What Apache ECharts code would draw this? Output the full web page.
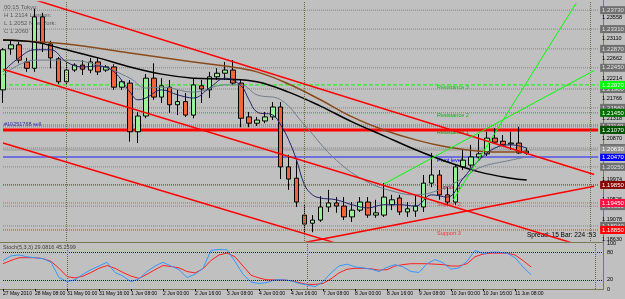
<!DOCTYPE html>
<html style="height: 100%">
<head>
    <meta charset="utf-8">
    <title>EURUSD,H4</title>
    <script src="https://cdn.jsdelivr.net/npm/echarts@6/dist/echarts.min.js"></script>
</head>
<body style="height: 100%; margin: 0; background: #c0c0c0">
<div id="main" style="width: 625px; height: 299px"></div>

<script type="text/javascript">
    // time axis labels, one every 4 bars (H4)
    var timeLabels = ['27 May 2010', '28 May 08:00', '31 May 00:00', '31 May 16:00', '1 Jun 08:00',
        '2 Jun 00:00', '2 Jun 16:00', '3 Jun 08:00', '4 Jun 00:00', '4 Jun 16:00', '7 Jun 08:00',
        '8 Jun 00:00', '8 Jun 16:00', '9 Jun 08:00', '10 Jun 00:00', '10 Jun 16:00', '11 Jun 08:00'];
    var slots = 76; // 67 bars + empty space on the right

    // [open, close, low, high]
    var candles = [
        [1.2196, 1.2285, 1.2167, 1.2289], [1.2287, 1.2296, 1.2274, 1.2307], [1.2296, 1.2262, 1.2255, 1.2303],
        [1.2258, 1.2244, 1.2236, 1.2267], [1.2244, 1.2358, 1.2236, 1.2376], [1.2358, 1.2300, 1.2280, 1.2367],
        [1.2298, 1.2267, 1.2244, 1.2305], [1.2265, 1.2214, 1.2209, 1.2269], [1.2214, 1.2240, 1.2209, 1.2258],
        [1.2240, 1.2251, 1.2236, 1.2255], [1.2251, 1.2242, 1.2229, 1.2262], [1.2240, 1.2258, 1.2233, 1.2267],
        [1.2258, 1.2236, 1.2229, 1.2267], [1.2240, 1.2247, 1.2236, 1.2251], [1.2247, 1.2202, 1.2196, 1.2253],
        [1.2202, 1.2214, 1.2196, 1.2218], [1.2211, 1.2103, 1.2081, 1.2218], [1.2103, 1.2138, 1.2078, 1.2147],
        [1.2138, 1.2222, 1.2133, 1.2231], [1.2222, 1.2180, 1.2174, 1.2255], [1.2180, 1.2205, 1.2167, 1.2222],
        [1.2202, 1.2163, 1.2145, 1.2218], [1.2163, 1.2170, 1.2140, 1.2196], [1.2170, 1.2140, 1.2136, 1.2189],
        [1.2140, 1.2207, 1.2133, 1.2222], [1.2205, 1.2198, 1.2167, 1.2218], [1.2196, 1.2225, 1.2178, 1.2236],
        [1.2225, 1.2233, 1.2218, 1.2244], [1.2233, 1.2240, 1.2218, 1.2258], [1.2240, 1.2211, 1.2207, 1.2262],
        [1.2211, 1.2133, 1.2113, 1.2218], [1.2136, 1.2122, 1.2113, 1.2147], [1.2122, 1.2129, 1.2116, 1.2136],
        [1.2127, 1.2136, 1.2122, 1.2147], [1.2136, 1.2158, 1.2129, 1.2169], [1.2158, 1.2025, 1.1998, 1.2169],
        [1.2025, 1.1998, 1.1974, 1.2052], [1.2000, 1.1947, 1.1936, 1.2040], [1.1918, 1.1898, 1.1876, 1.1941],
        [1.1900, 1.1907, 1.1880, 1.1918], [1.1907, 1.1936, 1.1903, 1.1960], [1.1936, 1.1945, 1.1925, 1.1974],
        [1.1945, 1.1938, 1.1923, 1.1958], [1.1938, 1.1914, 1.1907, 1.1958], [1.1914, 1.1929, 1.1903, 1.1947],
        [1.1929, 1.1947, 1.1925, 1.1958], [1.1947, 1.1918, 1.1912, 1.1958], [1.1918, 1.1923, 1.1912, 1.1952],
        [1.1918, 1.1958, 1.1914, 1.1989], [1.1941, 1.1952, 1.1929, 1.1963], [1.1956, 1.1925, 1.1918, 1.1963],
        [1.1925, 1.1932, 1.1914, 1.1947], [1.1927, 1.1938, 1.1914, 1.1963], [1.1936, 1.1989, 1.1925, 1.2007],
        [1.1989, 1.2007, 1.1980, 1.2056], [1.2007, 1.1963, 1.1952, 1.2018], [1.1963, 1.1947, 1.1941, 1.1980],
        [1.1947, 1.2025, 1.1941, 1.2029], [1.2025, 1.2040, 1.2018, 1.2063], [1.2029, 1.2047, 1.2023, 1.2074],
        [1.2047, 1.2054, 1.2040, 1.2098], [1.2054, 1.2089, 1.2049, 1.2103], [1.2089, 1.2080, 1.2076, 1.2111],
        [1.2082, 1.2074, 1.2071, 1.2096], [1.2076, 1.2078, 1.2063, 1.2103], [1.2078, 1.2056, 1.2054, 1.2114],
        [1.2056, 1.2060, 1.2052, 1.2067]
    ];

    // moving averages: [bar, price]
    var blackMA = [[0, 1.2307], [4, 1.2302], [8, 1.2285], [12, 1.2267], [16, 1.2247], [20, 1.2231], [24, 1.2222],
        [28, 1.2220], [32, 1.2214], [36, 1.2191], [40, 1.2160], [44, 1.2125], [48, 1.2094], [52, 1.2063],
        [56, 1.2036], [60, 1.2014], [64, 1.2000], [66, 1.1996]];
    var brownMA = [[0, 1.2307], [8, 1.2298], [16, 1.2278], [24, 1.2258], [28, 1.2249], [32, 1.2236], [36, 1.2209],
        [40, 1.2174], [44, 1.2136], [48, 1.2107], [52, 1.2085], [56, 1.2069], [60, 1.2060], [64, 1.2058], [66, 1.2060]];
    var navyMA = [[0, 1.2236], [2, 1.2267], [4, 1.2285], [6, 1.2285], [8, 1.2258], [10, 1.2247], [12, 1.2249],
        [14, 1.2236], [16, 1.2191], [17, 1.2174], [18, 1.2178], [20, 1.2196], [22, 1.2185], [24, 1.2178],
        [26, 1.2200], [28, 1.2222], [30, 1.2205], [31, 1.2174], [32, 1.2147], [34, 1.2140], [35, 1.2118],
        [36, 1.2085], [37, 1.2040], [38, 1.1985], [39, 1.1963], [40, 1.1956], [42, 1.1952], [44, 1.1941],
        [46, 1.1934], [48, 1.1941], [50, 1.1941], [52, 1.1938], [54, 1.1963], [56, 1.1958], [58, 1.2000],
        [60, 1.2040], [62, 1.2067], [64, 1.2074], [66, 1.2067]];
    var slateMA = [[0, 1.2229], [4, 1.2262], [8, 1.2262], [12, 1.2251], [16, 1.2222], [18, 1.2200], [20, 1.2202],
        [24, 1.2191], [28, 1.2207], [30, 1.2207], [32, 1.2185], [35, 1.2174], [38, 1.2118], [42, 1.2040],
        [46, 1.1991], [50, 1.1967], [52, 1.1963], [55, 1.1974], [58, 1.2000], [60, 1.2023], [64, 1.2040], [66, 1.2047]];

    // trend lines: [[bar, price], [bar, price]]
    var redLines = [
        [[0, 1.2418], [74.5, 1.2008]],
        [[0, 1.2242], [74, 1.1844]],
        [[0, 1.2078], [44, 1.1845]],
        [[38, 1.1857], [74.5, 1.1982]]
    ];
    var greenLines = [
        [[48, 1.1987], [74.5, 1.2239]],
        [[56.75, 1.1952], [72.25, 1.2389]]
    ];

    // horizontal levels
    var greyLevels = [1.2373, 1.2331, 1.2287, 1.2245, 1.2198, 1.2156, 1.2114, 1.2067, 1.2025, 1.1938, 1.1894];
    var pivotNames = ['Resistance 3', 'Resistance 2', 'Resistance 1', 'Pivot level', 'Support 1', 'Support 2', 'Support 3'];
    var pivotValues = [1.2207, 1.2145, 1.2107, 1.2047, 1.1985, 1.1945, 1.1885];
    var orderLevel = 1.2118;
    var bidLevel = 1.2063;
    var separators = [8, 38, 74];

    var priceTicks = [1.18630, 1.19078, 1.19526, 1.19974, 1.20422, 1.20870, 1.21318, 1.21766, 1.22214, 1.22662, 1.23110, 1.23558];

    // stochastic %K (blue) and %D (red)
    var stochK = [62, 72, 74, 70, 68, 66, 58, 25, 16, 20, 32, 42, 50, 58, 36, 28, 16, 22, 38, 50, 58, 50, 42, 25,
        32, 45, 84, 86, 85, 60, 32, 15, 12, 14, 20, 20, 18, 12, 9, 5, 16, 35, 50, 54, 48, 46, 43, 38, 47, 53,
        48, 38, 36, 55, 64, 57, 43, 46, 60, 84, 77, 80, 80, 78, 68, 48, 31];
    var stochD = [55, 62, 68, 68, 68, 66, 60, 45, 27, 24, 28, 36, 45, 51, 45, 36, 28, 23, 32, 42, 51, 49, 46, 38,
        35, 44, 62, 74, 78, 70, 50, 30, 24, 20, 20, 20, 18, 14, 10, 10, 12, 22, 35, 43, 45, 45, 44, 41, 42, 50,
        53, 55, 55, 55, 54, 53, 50, 50, 55, 70, 76, 78, 78, 78, 74, 62, 48];

    var cats = [];
    for (var i = 0; i < slots; i++) cats.push(String(i));

    var font = "'Liberation Sans', Arial, sans-serif";
    var pivotStyle = [
        {c: '#00ff00', t: 'dashed', w: 1, bg: '#00ff00', fg: '#ffffff', txt: '#10c010'},
        {c: '#00c000', t: 'dotted', w: 1, bg: '#007000', fg: '#ffffff', txt: '#10b010'},
        {c: '#ff0000', t: 'solid', w: 3, bg: '#005000', fg: '#ffffff', txt: '#109010'},
        {c: '#7070dd', t: 'solid', w: 2, bg: '#0000ff', fg: '#ffffff', txt: '#0000ff'},
        {c: '#8b1010', t: 'dotted', w: 1, bg: '#8b0000', fg: '#ffffff', txt: '#a01010'},
        {c: '#ff4060', t: 'dotted', w: 1, bg: '#ff1040', fg: '#ffffff', txt: '#ff3030'},
        {c: '#ff2020', t: 'dotted', w: 1, bg: '#ff0000', fg: '#ffffff', txt: '#ff3030'}
    ];
    var pivotTextY = [84, 112, 129, 157, 184, 201, 230];

    function levelSeries(v, color, type, width, bg, fg) {
        return {
            type: 'line', xAxisIndex: 1, yAxisIndex: 0, data: [[0, v], [slots - 1, v]], symbol: 'none', silent: true, z: 1,
            lineStyle: {color: color, type: type, width: width},
            endLabel: bg ? {
                show: true, distance: 2, formatter: function (p) { return p.value[1].toFixed(5); },
                backgroundColor: bg, color: fg, fontSize: 6, fontFamily: font, padding: [1, 2]
            } : {show: false}
        };
    }

    var series = [];
    greyLevels.forEach(function (v) {
        series.push(levelSeries(v, '#858585', 'dotted', 1, '#707070', '#e0e0e0'));
    });
    pivotValues.forEach(function (v, k) {
        var s = pivotStyle[k];
        series.push(levelSeries(v, s.c, s.t, s.w, s.bg, s.fg));
    });
    series.push(levelSeries(orderLevel, '#6060e0', 'dotted', 1, null, null));
    series.push(levelSeries(bidLevel, '#a8a8a8', 'solid', 2, '#909090', '#ffffff'));

    series.push({
        type: 'line', xAxisIndex: 0, yAxisIndex: 0, data: [], silent: true,
        markLine: {
            symbol: 'none', silent: true, animation: false, label: {show: false},
            lineStyle: {color: '#6b6b3a', type: 'dotted', width: 1},
            data: separators.map(function (s) { return {xAxis: s}; })
        }
    });
    series.push({
        type: 'candlestick', xAxisIndex: 0, yAxisIndex: 0, data: candles, barWidth: 5, clip: false, z: 3,
        itemStyle: {color: '#98f098', color0: '#f4643c', borderColor: '#000', borderColor0: '#000', borderWidth: 1}
    });
    series.push({type: 'line', xAxisIndex: 1, yAxisIndex: 0, data: brownMA, smooth: 0.4, symbol: 'none', z: 4, lineStyle: {color: '#8b4a1a', width: 1.5}});
    series.push({type: 'line', xAxisIndex: 1, yAxisIndex: 0, data: blackMA, smooth: 0.4, symbol: 'none', z: 4, lineStyle: {color: '#000', width: 1.5}});
    series.push({type: 'line', xAxisIndex: 1, yAxisIndex: 0, data: slateMA, smooth: 0.4, symbol: 'none', z: 4, lineStyle: {color: '#6f7f90', width: 1}});
    series.push({type: 'line', xAxisIndex: 1, yAxisIndex: 0, data: navyMA, smooth: 0.4, symbol: 'none', z: 4, lineStyle: {color: '#22226e', width: 1}});
    redLines.forEach(function (l) {
        series.push({type: 'line', xAxisIndex: 1, yAxisIndex: 0, data: l, symbol: 'none', z: 5, lineStyle: {color: '#ff0000', width: 1.5}});
    });
    greenLines.forEach(function (l) {
        series.push({type: 'line', xAxisIndex: 1, yAxisIndex: 0, data: l, symbol: 'none', z: 5, lineStyle: {color: '#00ff00', width: 1}});
    });
    series.push({
        type: 'line', xAxisIndex: 2, yAxisIndex: 1, data: [], silent: true,
        markLine: {
            symbol: 'none', silent: true, animation: false, label: {show: false}, precision: 0,
            data: [
                {yAxis: 80, lineStyle: {color: '#0000ff', type: 'dotted', width: 1}},
                {yAxis: 20, lineStyle: {color: '#0000ff', type: 'dotted', width: 1}},
                {xAxis: separators[0], lineStyle: {color: '#6b6b3a', type: 'dotted', width: 1}},
                {xAxis: separators[1], lineStyle: {color: '#6b6b3a', type: 'dotted', width: 1}},
                {xAxis: separators[2], lineStyle: {color: '#6b6b3a', type: 'dotted', width: 1}}
            ]
        }
    });
    series.push({type: 'line', xAxisIndex: 2, yAxisIndex: 1, data: stochD, symbol: 'none', lineStyle: {color: '#ff2020', width: 1}});
    series.push({type: 'line', xAxisIndex: 2, yAxisIndex: 1, data: stochK, symbol: 'none', lineStyle: {color: '#3399ff', width: 1}});

    var graphics = [
        {type: 'line', shape: {x1: 603.5, y1: 0, x2: 603.5, y2: 289}, style: {stroke: '#7a7a55', lineWidth: 1}},
        {type: 'line', shape: {x1: 0, y1: 242.5, x2: 604, y2: 242.5}, style: {stroke: '#7a7a55', lineWidth: 1}},
        {type: 'line', shape: {x1: 0, y1: 289.5, x2: 604, y2: 289.5}, style: {stroke: '#7a7a55', lineWidth: 1}},
        {type: 'text', left: 4, top: 3, style: {text: '00:15 Tokyo:\nH 1.2114 London:\nL 1.2052 New York:\nC 1.2060', fill: '#5c5c5c', font: '6px ' + font, lineHeight: 8}},
        {type: 'text', left: 4, top: 121, style: {text: '#10251768 sell', fill: '#3030a0', font: '5.5px ' + font}},
        {type: 'text', left: 527, top: 232, style: {text: 'Spread: 15 Bar: 224 :53', fill: '#000', font: '6.5px ' + font}},
        {type: 'text', left: 3, top: 244, style: {text: 'Stoch(5,3,3) 29.0816 45.2599', fill: '#3c3c3c', font: '5.5px ' + font}}
    ];
    pivotNames.forEach(function (n, k) {
        graphics.push({type: 'text', left: 437, top: pivotTextY[k], style: {text: n, fill: pivotStyle[k].txt, font: '5.5px ' + font}});
    });

    var myChart = echarts.init(document.getElementById('main'));
    var option = {
        backgroundColor: '#c0c0c0',
        animation: false,
        grid: [
            {left: 3, right: 22, top: 2, height: 239},
            {left: 3, right: 22, top: 243, height: 46}
        ],
        xAxis: [
            {type: 'category', gridIndex: 0, data: cats, boundaryGap: false, show: false},
            {type: 'value', gridIndex: 0, min: 0, max: slots - 1, show: false},
            {
                type: 'category', gridIndex: 1, data: cats, boundaryGap: false,
                axisLine: {show: false},
                axisTick: {show: true, length: 2, lineStyle: {color: '#000'},
                    interval: function (i) { return i % 4 === 0 && i / 4 < timeLabels.length; }},
                axisLabel: {
                    interval: function (i) { return i % 4 === 0 && i / 4 < timeLabels.length; },
                    formatter: function (v, i) { return timeLabels[i / 4] || ''; },
                    showMinLabel: true, hideOverlap: false,
                    align: 'left', margin: 2, fontSize: 5, fontFamily: font, color: '#000'
                }
            }
        ],
        yAxis: [
            {
                type: 'value', gridIndex: 0, position: 'right', min: 1.18605, max: 1.23911,
                splitLine: {show: false}, axisLine: {show: false}, axisTick: {show: false},
                axisLabel: {customValues: priceTicks, formatter: function (v) { return v.toFixed(5); },
                    fontSize: 5.5, fontFamily: font, color: '#000', margin: 4}
            },
            {
                type: 'value', gridIndex: 1, position: 'right', min: 0, max: 100,
                splitLine: {show: false}, axisLine: {show: false}, axisTick: {show: false},
                axisLabel: {customValues: [0, 20, 80, 100], fontSize: 5.5, fontFamily: font, color: '#000', margin: 4}
            }
        ],
        graphic: graphics,
        series: series
    };
    myChart.setOption(option, true);
</script>
</body>
</html>
